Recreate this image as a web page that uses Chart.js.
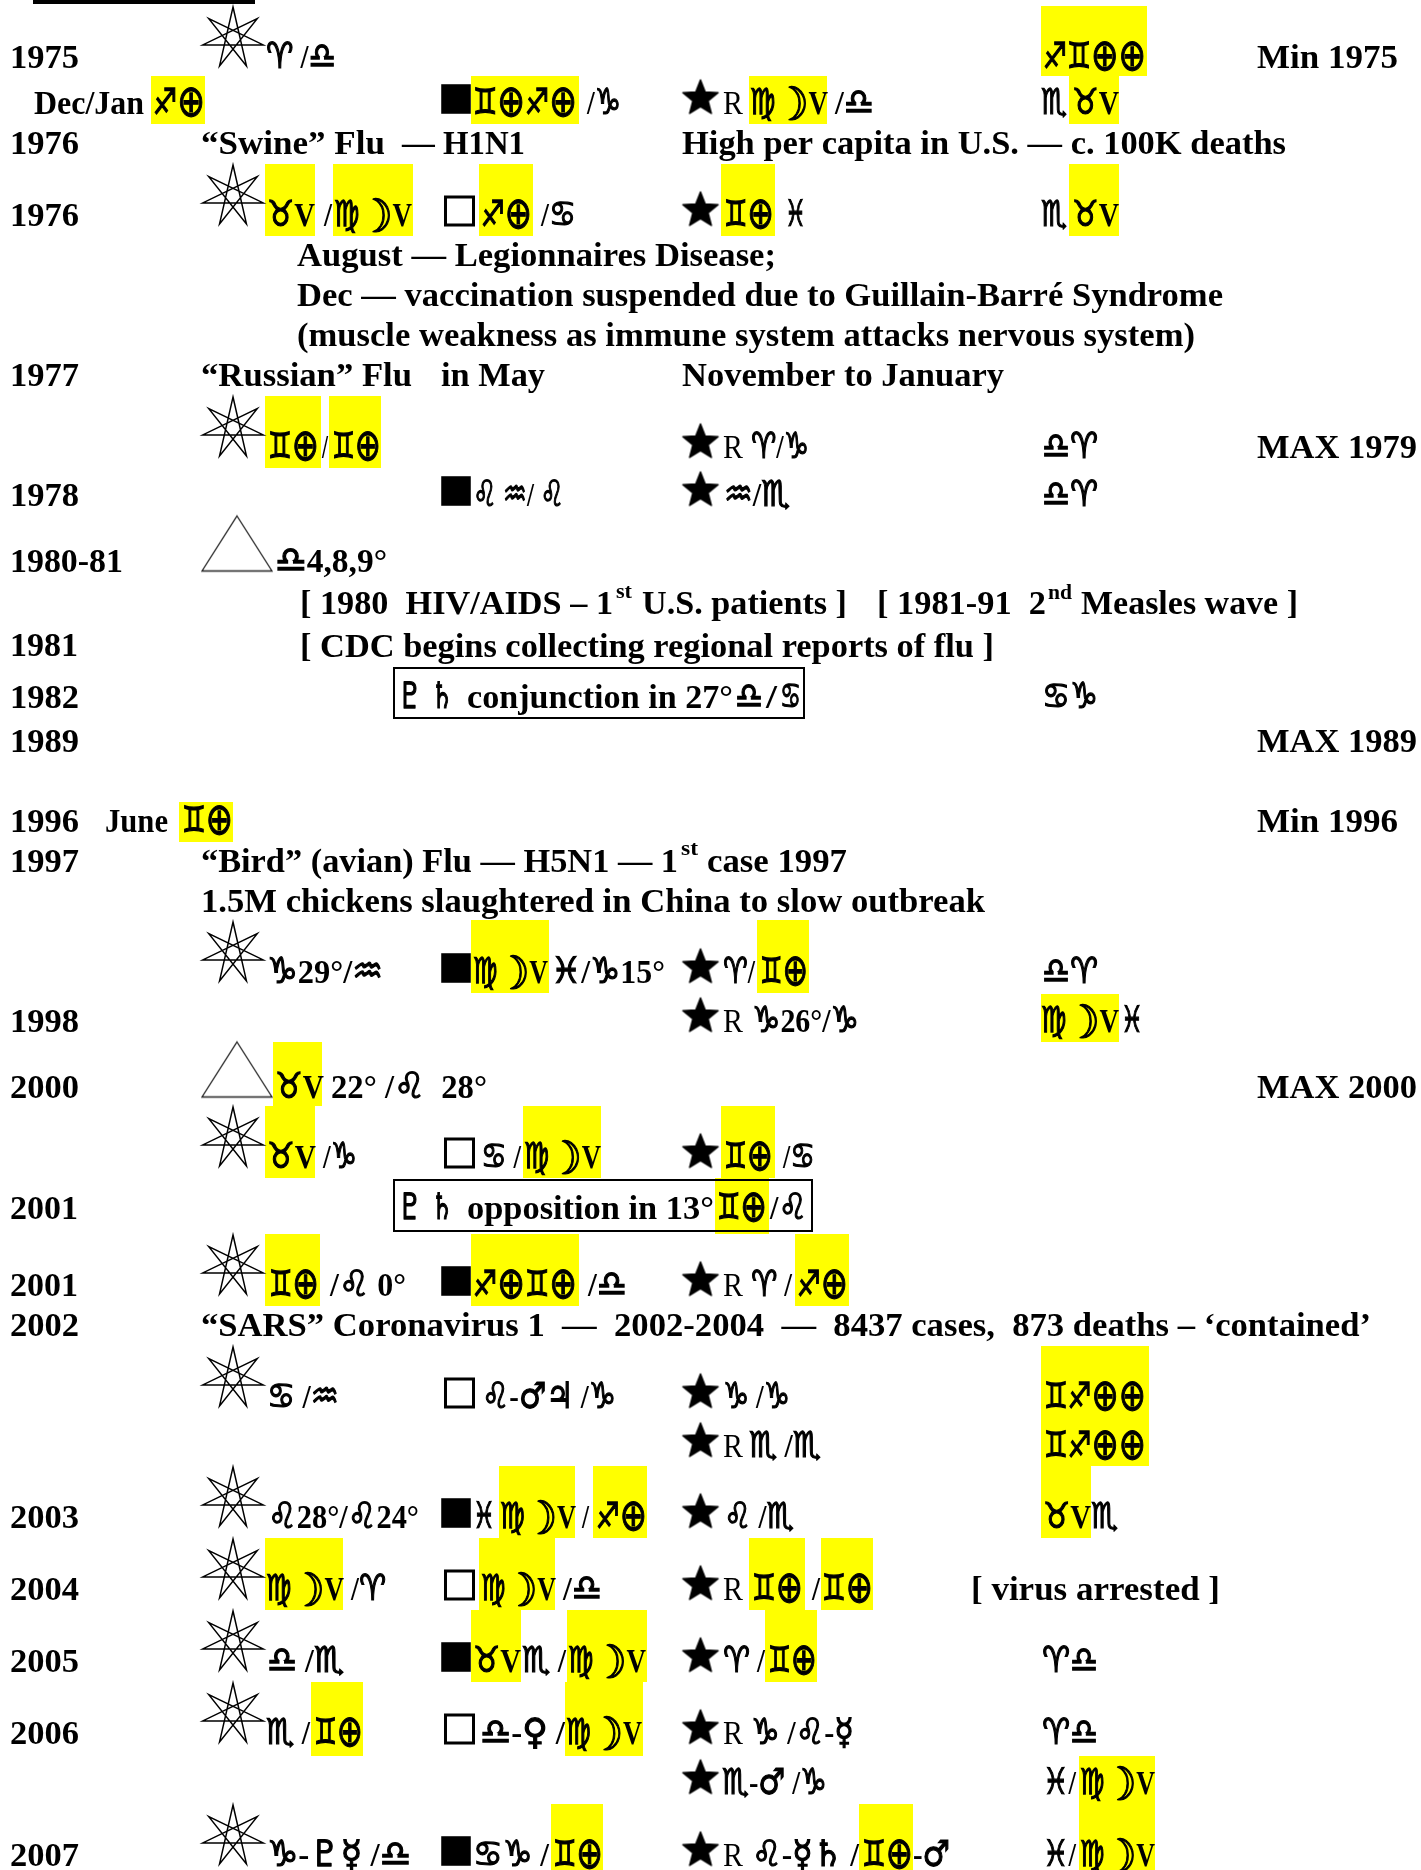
<!DOCTYPE html>
<html>
<head>
    <title>Flu Pandemic Table</title>
    <script src="https://cdn.jsdelivr.net/npm/chart.js"></script>
    <style>
        html, body { margin: 0; padding: 0; background: #fff; overflow: hidden; }
        canvas { display: block; }
    </style>
</head>
<body>
    <canvas id="fluChart" width="1421" height="1870"></canvas>

    <script>
        // every run is [text, x start, x end, baseline]
        const yearRuns = [
            ['1975', 10, 79, 68], ['Dec/Jan', 34, 144, 114], ['1976', 10, 79, 154], ['1976', 10, 79, 226],
            ['1977', 10, 79, 386], ['1978', 10, 79, 506], ['1980-81', 10, 123, 572], ['1981', 10, 78, 656],
            ['1982', 10, 79, 708], ['1989', 10, 79, 752], ['1996', 10, 79, 832], ['June', 105, 168, 832],
            ['1997', 10, 79, 872], ['1998', 10, 79, 1032], ['2000', 10, 79, 1098], ['2001', 10, 78, 1219],
            ['2001', 10, 78, 1296], ['2002', 10, 79, 1336], ['2003', 10, 79, 1528], ['2004', 10, 79, 1600],
            ['2005', 10, 79, 1672], ['2006', 10, 79, 1744], ['2007', 10, 79, 1866]
        ];
        const cycleRuns = [
            ['Min 1975', 1257, 1398, 68], ['MAX 1979', 1257, 1417, 458], ['MAX 1989', 1257, 1417, 752],
            ['Min 1996', 1257, 1398, 832], ['MAX 2000', 1257, 1417, 1098]
        ];
        const noteRuns = [
            ['“Swine” Flu', 201, 385, 154], ['— H1N1', 402, 525, 154],
            ['High per capita in U.S. — c. 100K deaths', 682, 1286, 154],
            ['August — Legionnaires Disease;', 297, 776, 266],
            ['Dec — vaccination suspended due to Guillain-Barré Syndrome', 297, 1223, 306],
            ['(muscle weakness as immune system attacks nervous system)', 297, 1195, 346],
            ['“Russian” Flu', 201, 412, 386], ['in May', 441, 545, 386],
            ['November to January', 682, 1004, 386],
            ['[ 1980  HIV/AIDS – 1', 300, 613, 614], ['U.S. patients ]', 642, 847, 614],
            ['[ 1981-91  2', 877, 1046, 614], ['Measles wave ]', 1081, 1298, 614],
            ['[ CDC begins collecting regional reports of flu ]', 300, 994, 657],
            ['conjunction in 27°', 467, 733, 708],
            ['“Bird” (avian) Flu — H5N1 — 1', 201, 678, 872], ['case 1997', 707, 847, 872],
            ['1.5M chickens slaughtered in China to slow outbreak', 201, 985, 912],
            ['opposition in 13°', 467, 714, 1219],
            ['“SARS” Coronavirus 1  —  2002-2004  —  8437 cases,  873 deaths – ‘contained’', 201, 1371, 1336],
            ['[ virus arrested ]', 971, 1220, 1600]
        ];
        const ordinalRuns = [
            ['st', 616, 632, 598], ['nd', 1048, 1072, 599], ['st', 681, 698, 855]
        ];
        // first column of aspect signs, right of the seven pointed star
        const septileRuns = [
            ['♈ /♎', 266, 336, 68], ['♐⊕', 153, 205, 114],
            ['♉V', 267, 315, 226], ['/', 324, 332, 226], ['♍☽V', 334, 412, 226],
            ['♊⊕', 268, 319, 458], ['/', 322, 328, 458], ['♊⊕', 332, 381, 458],
            ['♎4,8,9°', 275, 387, 572], ['♊⊕', 182, 233, 832],
            ['♑29°/♒', 267, 383, 983],
            ['♉V', 275, 324, 1098], ['22° /♌  28°', 331, 487, 1098],
            ['♉V', 267, 316, 1168], ['/♑', 323, 357, 1168],
            ['♊⊕', 269, 319, 1296], ['/♌ 0°', 330, 406, 1296],
            ['♋ /♒', 267, 339, 1408], ['♌28°/♌24°', 268, 419, 1528],
            ['♍☽V', 266, 344, 1600], ['/♈', 351, 386, 1600],
            ['♎ /♏', 267, 344, 1672],
            ['♏ /', 266, 310, 1744], ['♊⊕', 314, 363, 1744],
            ['♑-♇☿ /♎', 267, 411, 1866]
        ];
        const squareRuns = [
            ['♊⊕♐⊕', 473, 577, 114], ['/♑', 587, 621, 114],
            ['♐⊕', 481, 532, 226], ['/♋', 541, 576, 226],
            ['♌ ♒/ ♌', 473, 564, 506],
            ['♍☽V', 473, 548, 983], ['♓/♑15°', 551, 665, 983],
            ['♋ /', 481, 521, 1168], ['♍☽V', 524, 601, 1168],
            ['♐⊕♊⊕', 473, 577, 1296], ['/♎', 588, 627, 1296],
            ['♌-♂♃ /♑', 482, 616, 1408],
            ['♓', 473, 495, 1528], ['♍☽V', 500, 576, 1528], ['/', 582, 589, 1528], ['♐⊕', 596, 647, 1528],
            ['♍☽V', 481, 556, 1600], ['/♎', 563, 602, 1600],
            ['♉V', 473, 521, 1672], ['♏ /', 522, 566, 1672], ['♍☽V', 568, 646, 1672],
            ['♎-♀ /', 480, 565, 1744], ['♍☽V', 566, 642, 1744],
            ['♋♑ /', 473, 549, 1866], ['♊⊕', 553, 603, 1866]
        ];
        const conjunctionRuns = [
            ['♇', 397, 423, 708], ['♄', 431, 453, 708], ['♎', 735, 763, 708], ['/', 766, 777, 708], ['♋', 780, 801, 708],
            ['♇', 397, 423, 1219], ['♄', 431, 453, 1219], ['♊⊕', 717, 767, 1219], ['/♌', 770, 807, 1219]
        ];
        const starRuns = [
            ['♍☽V', 750, 828, 114], ['/♎', 835, 874, 114],
            ['♊⊕', 724, 774, 226], ['♓', 785, 806, 226],
            ['♈/♑', 751, 809, 458], ['♒/♏', 724, 790, 506],
            ['♈/', 723, 755, 983], ['♊⊕', 760, 808, 983],
            ['♑26°/♑', 752, 859, 1032],
            ['♊⊕', 724, 773, 1168], ['/♋', 783, 815, 1168],
            ['♈ /', 751, 792, 1296], ['♐⊕', 797, 848, 1296],
            ['♑ /♑', 723, 790, 1408], ['♏ /♏', 749, 821, 1457], ['♌ /♏', 724, 794, 1528],
            ['♊⊕', 752, 803, 1600], ['/', 812, 820, 1600], ['♊⊕', 822, 873, 1600],
            ['♈ /', 723, 765, 1672], ['♊⊕', 768, 817, 1672],
            ['♑ /♌-☿', 751, 854, 1744], ['♏-♂ /♑', 722, 827, 1794],
            ['♌-☿♄ /', 752, 859, 1866], ['♊⊕', 862, 913, 1866], ['-♂', 913, 950, 1866]
        ];
        const lastRuns = [
            ['♐♊⊕⊕', 1043, 1146, 68], ['♏', 1041, 1067, 114], ['♉V', 1072, 1119, 114],
            ['♏', 1041, 1067, 226], ['♉V', 1072, 1119, 226],
            ['♎♈', 1042, 1098, 458], ['♎♈', 1042, 1098, 506], ['♋♑', 1042, 1098, 708],
            ['♎♈', 1042, 1098, 983], ['♍☽V', 1041, 1119, 1032], ['♓', 1121, 1143, 1032],
            ['♊♐⊕⊕', 1044, 1146, 1408], ['♊♐⊕⊕', 1044, 1146, 1457],
            ['♉V', 1043, 1091, 1528], ['♏', 1091, 1118, 1528],
            ['♈♎', 1042, 1098, 1672], ['♈♎', 1042, 1098, 1744],
            ['♓/', 1043, 1076, 1794], ['♍☽V', 1080, 1155, 1794],
            ['♓/', 1043, 1076, 1866], ['♍☽V', 1080, 1155, 1866]
        ];

        // yellow highlights as [x start, x end, y top, y bottom]
        const highlightBands = [
            [1041, 1147, 6, 76], [151, 205, 76, 124], [471, 579, 76, 124], [749, 827, 76, 124], [1069, 1119, 76, 124],
            [265, 315, 164, 236], [333, 413, 164, 236], [479, 533, 164, 236], [721, 775, 164, 236], [1069, 1119, 164, 236],
            [265, 321, 396, 468], [329, 381, 396, 468], [179, 233, 802, 842],
            [471, 549, 920, 993], [757, 809, 920, 993], [1041, 1119, 994, 1042],
            [273, 322, 1042, 1106], [265, 315, 1106, 1178], [523, 601, 1106, 1178], [721, 775, 1106, 1178],
            [715, 769, 1178, 1234], [265, 320, 1234, 1306], [471, 579, 1234, 1306], [795, 849, 1234, 1306],
            [1041, 1149, 1346, 1466], [1041, 1091, 1466, 1538],
            [499, 575, 1466, 1538], [593, 647, 1466, 1538],
            [265, 343, 1538, 1610], [479, 555, 1538, 1610], [749, 805, 1538, 1610], [821, 873, 1538, 1610],
            [471, 521, 1610, 1682], [567, 647, 1610, 1682], [765, 817, 1610, 1682],
            [311, 363, 1682, 1756], [565, 643, 1682, 1756],
            [1079, 1155, 1756, 1870], [551, 603, 1804, 1870], [859, 913, 1804, 1870]
        ];
        const topRule = [33, 255, 0, 4];
        const planetBoxes = [[394, 804, 668, 718], [394, 812, 1180, 1231]];

        // rows (baselines) that carry each aspect mark
        const septileRows = [68, 226, 458, 983, 1168, 1296, 1408, 1528, 1600, 1672, 1744, 1866];
        const trineRows = [571, 1097];
        const filledSquareRows = [114, 506, 983, 1296, 1528, 1672, 1866];
        const openSquareRows = [226, 1168, 1408, 1600, 1744];
        const starRows = [114, 226, 458, 506, 983, 1032, 1168, 1296, 1408, 1457, 1528, 1600, 1672, 1744, 1794, 1866];
        const retrogradeRows = [114, 458, 1032, 1296, 1457, 1600, 1744, 1866];

        const boldFont = 'bold 34px "Liberation Serif"';
        const plainFont = '34px "Liberation Serif"';
        const signFont = 'bold 36px "DejaVu Sans"';
        const earthFont = '44px "DejaVu Sans"';
        const moonFont = 'bold 46px "DejaVu Sans"';
        const signChars = /([♈-♓⊕☽♇♄♂♀☿♃])/;

        function markCanvas(w, h, draw) {
            const c = document.createElement('canvas');
            c.width = w;
            c.height = h;
            draw(c.getContext('2d'));
            return c;
        }

        function polarPath(ctx, cx, cy, radii, n, step) {
            ctx.beginPath();
            for (let i = 0; i < n; i++) {
                const a = -Math.PI / 2 + i * step * 2 * Math.PI / n;
                const r = radii[i % radii.length];
                ctx.lineTo(cx + r * Math.cos(a), cy + r * Math.sin(a));
            }
            ctx.closePath();
        }

        // seven pointed star {7/3}
        const septileMark = markCanvas(72, 72, ctx => {
            polarPath(ctx, 36, 36, [31], 7, 3);
            ctx.strokeStyle = '#000';
            ctx.lineWidth = 1.5;
            ctx.stroke();
        });
        const trineMark = markCanvas(76, 60, ctx => {
            ctx.beginPath();
            ctx.moveTo(38, 2.5);
            ctx.lineTo(73, 57.5);
            ctx.lineTo(3, 57.5);
            ctx.closePath();
            ctx.strokeStyle = '#222';
            ctx.lineWidth = 1.3;
            ctx.stroke();
        });
        const starMark = markCanvas(44, 44, ctx => {
            polarPath(ctx, 22, 22, [18.5, 8], 10, 1);
            ctx.fillStyle = '#000';
            ctx.strokeStyle = '#000';
            ctx.lineWidth = 1.5;
            ctx.lineJoin = 'round';
            ctx.fill();
            ctx.stroke();
        });

        function rowPoints(rows, x, offset) {
            return rows.map(r => ({ x: x, y: r + offset }));
        }

        function fontFor(part, font) {
            if (part === '⊕') return earthFont;
            if (part === '☽') return moonFont;
            return signChars.test(part) ? signFont : font;
        }

        // a run mixes sign glyphs and serif text, so it is cut into parts
        function drawRuns(ctx, x, y, runs, font) {
            ctx.fillStyle = '#000';
            ctx.strokeStyle = '#000';
            ctx.lineWidth = 1.2;
            ctx.textBaseline = 'alphabetic';
            runs.forEach(run => {
                const parts = run[0].split(signChars).filter(p => p !== '');
                let total = 0;
                const widths = parts.map(p => {
                    ctx.font = fontFor(p, font);
                    const w = ctx.measureText(p).width;
                    total += w;
                    return w;
                });
                const left = x.getPixelForValue(run[1]);
                const right = x.getPixelForValue(run[2]);
                const fit = (right - left) / total;
                let pen = 0;
                ctx.save();
                ctx.translate(left, y.getPixelForValue(run[3]));
                ctx.scale(fit, 1);
                parts.forEach((p, i) => {
                    ctx.font = fontFor(p, font);
                    // the big glyphs sit too high on the serif baseline
                    const drop = p === '⊕' ? 2 : (p === '☽' ? 6 : 0);
                    ctx.fillText(p, pen, drop);
                    if (signChars.test(p)) ctx.strokeText(p, pen, drop);
                    pen += widths[i];
                });
                ctx.restore();
            });
        }

        const tablePlugin = {
            id: 'tablePlugin',
            beforeDatasetsDraw(chart) {
                const ctx = chart.ctx;
                const x = chart.scales.x;
                const y = chart.scales.y;
                ctx.save();
                ctx.fillStyle = '#ffff00';
                highlightBands.forEach(b => {
                    ctx.fillRect(x.getPixelForValue(b[0]), y.getPixelForValue(b[2]),
                        x.getPixelForValue(b[1]) - x.getPixelForValue(b[0]),
                        y.getPixelForValue(b[3]) - y.getPixelForValue(b[2]));
                });
                ctx.fillStyle = '#000';
                ctx.fillRect(x.getPixelForValue(topRule[0]), y.getPixelForValue(topRule[2]),
                    x.getPixelForValue(topRule[1]) - x.getPixelForValue(topRule[0]),
                    y.getPixelForValue(topRule[3]) - y.getPixelForValue(topRule[2]));
                ctx.strokeStyle = '#000';
                ctx.lineWidth = 2;
                planetBoxes.forEach(b => {
                    ctx.strokeRect(x.getPixelForValue(b[0]), y.getPixelForValue(b[2]),
                        x.getPixelForValue(b[1]) - x.getPixelForValue(b[0]),
                        y.getPixelForValue(b[3]) - y.getPixelForValue(b[2]));
                });
                ctx.restore();
            },
            afterDatasetsDraw(chart) {
                const ctx = chart.ctx;
                const x = chart.scales.x;
                const y = chart.scales.y;
                ctx.save();
                [yearRuns, cycleRuns, noteRuns, septileRuns, squareRuns, conjunctionRuns, starRuns, lastRuns]
                    .forEach(runs => drawRuns(ctx, x, y, runs, boldFont));
                drawRuns(ctx, x, y, ordinalRuns, 'bold 20px "Liberation Serif"');
                drawRuns(ctx, x, y, retrogradeRows.map(r => ['R', 723, 743, r]), plainFont);
                ctx.restore();
            }
        };

        function markSet(points, style, radius, extra) {
            return Object.assign({
                type: 'scatter',
                data: points,
                pointStyle: style,
                pointRadius: radius,
                pointHoverRadius: radius,
                pointBorderWidth: 0,
                pointBackgroundColor: '#000',
                showLine: false,
                clip: false
            }, extra || {});
        }

        new Chart(document.getElementById('fluChart').getContext('2d'), {
            type: 'scatter',
            data: {
                datasets: [
                    markSet(rowPoints(septileRows, 233, -30), septileMark, 10),
                    markSet(rowPoints(trineRows, 237, -27.5), trineMark, 10),
                    markSet(rowPoints(filledSquareRows, 456, -15), 'rect', 20.9),
                    markSet(rowPoints(openSquareRows, 459.5, -15), 'rect', 19.8, {
                        pointBackgroundColor: 'rgba(0,0,0,0)',
                        pointBorderColor: '#000',
                        pointBorderWidth: 3
                    }),
                    markSet(rowPoints(starRows, 700.5, -15.5), starMark, 10)
                ]
            },
            options: {
                responsive: false,
                animation: false,
                events: [],
                layout: { padding: 0, autoPadding: false },
                plugins: { legend: { display: false }, tooltip: { enabled: false } },
                scales: {
                    x: { type: 'linear', min: 0, max: 1421, display: false },
                    y: { type: 'linear', min: 0, max: 1870, reverse: true, display: false }
                }
            },
            plugins: [tablePlugin]
        });
    </script>
</body>
</html>
